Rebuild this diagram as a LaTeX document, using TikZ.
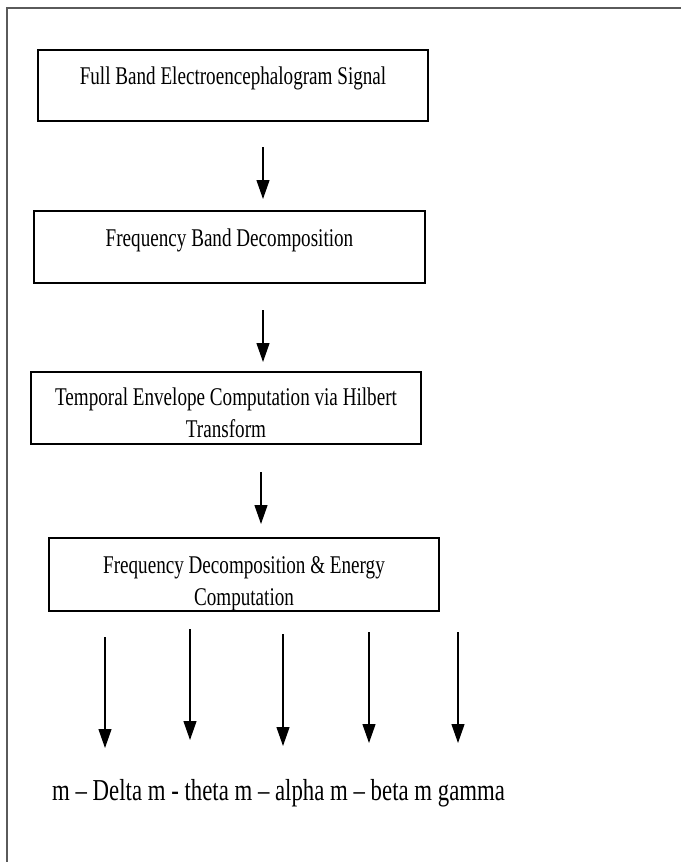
\documentclass[tikz,border=0pt]{standalone}
\usepackage{fontspec}
\setmainfont{Liberation Serif}
\newfontfamily\condserif{Liberation Serif}[FakeStretch=0.75]
\usetikzlibrary{arrows.meta}
\definecolor{framegray}{HTML}{5A5A5A}
\tikzset{
  stepbox/.style={draw=black, line width=1.3pt, inner sep=0pt, align=center,
    font=\condserif\fontsize{25.5}{32}\selectfont},
  flowarrow/.style={draw=black, line width=1.2pt, -{Triangle[width=13pt,length=19pt]}},
  bandlabel/.style={inner sep=0pt, anchor=base west, font=\condserif\fontsize{30.4}{36}\selectfont}
}
\begin{document}
\begin{tikzpicture}[x=1pt,y=-1pt]
\useasboundingbox (0,0) rectangle (681,862);
% outer frame (top and left only)
\draw[framegray, line width=2pt] (7,862) -- (7,7.5) -- (681,7.5);

\node[stepbox, minimum width=390pt, text height=34pt, text depth=37pt] (b1) at (233,85.5)
  {Full Band Electroencephalogram Signal};
\node[stepbox, minimum width=391pt, text height=35pt, text depth=37pt] (b2) at (229.5,247)
  {Frequency Band Decomposition};
\node[stepbox, minimum width=390pt, text height=65pt, text depth=7pt] (b3) at (226,408)
  {Temporal Envelope Computation via Hilbert\\Transform};
\node[stepbox, minimum width=390pt, text height=67pt, text depth=6pt] (b4) at (244,574.5)
  {Frequency Decomposition \& Energy\\Computation};

\coordinate (a1s) at (263,147); \coordinate (a1e) at (263,199);
\coordinate (a2s) at (263,310); \coordinate (a2e) at (263,362);
\coordinate (a3s) at (261,472); \coordinate (a3e) at (261,524);
\draw[flowarrow] (a1s) -- (a1e);
\draw[flowarrow] (a2s) -- (a2e);
\draw[flowarrow] (a3s) -- (a3e);

\coordinate (d1s) at (105,637); \coordinate (d1e) at (105,748);
\coordinate (d2s) at (190,629); \coordinate (d2e) at (190,740);
\coordinate (d3s) at (283,634); \coordinate (d3e) at (283,746);
\coordinate (d4s) at (369,632); \coordinate (d4e) at (369,743);
\coordinate (d5s) at (458,632); \coordinate (d5e) at (458,743);
\draw[flowarrow] (d1s) -- (d1e);
\draw[flowarrow] (d2s) -- (d2e);
\draw[flowarrow] (d3s) -- (d3e);
\draw[flowarrow] (d4s) -- (d4e);
\draw[flowarrow] (d5s) -- (d5e);

\node[bandlabel] (bands) at (52,800.7) {m – Delta m - theta m – alpha m – beta m gamma};
\end{tikzpicture}
\end{document}
